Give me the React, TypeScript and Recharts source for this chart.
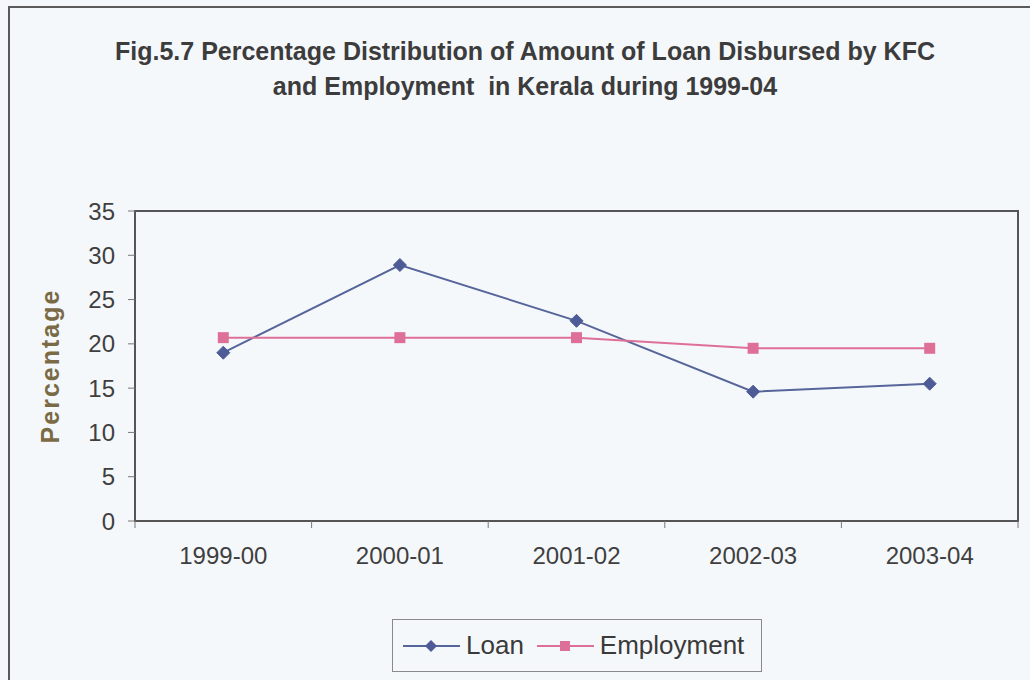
import React from 'react';
import { LineChart, Line, XAxis, YAxis, Legend, ReferenceArea } from 'recharts';

const YEARS = ['1999-00', '2000-01', '2001-02', '2002-03', '2003-04'];
const LOAN = [19.0, 28.9, 22.6, 14.6, 15.5];
const EMPLOYMENT = [20.7, 20.7, 20.7, 19.5, 19.5];
const SERIES = ['Loan', 'Employment'];
const Y_TICKS = [0, 5, 10, 15, 20, 25, 30, 35];

const LOAN_COLOR = '#56659a';
const EMP_COLOR = '#de7097';
const FONT = 'Arial, "Liberation Sans", sans-serif';

// each year sits in the middle of its own slot on a 0..n axis
const data = YEARS.map((year, i) => ({ year, slot: i + 0.5, Loan: LOAN[i], Employment: EMPLOYMENT[i] }));
const BOUNDARY_TICKS = YEARS.map((_, i) => i).concat(YEARS.length);
const CENTER_TICKS = data.map((d) => d.slot);

const Diamond = (props: any) => {
  const { cx, cy } = props;
  if (cx == null || cy == null) return null;
  const r = 6.5;
  return (
    <polygon
      points={`${cx},${cy - r} ${cx + r},${cy} ${cx},${cy + r} ${cx - r},${cy}`}
      fill="#4d5c96"
      stroke="#4d5c96"
    />
  );
};

const Square = (props: any) => {
  const { cx, cy } = props;
  if (cx == null || cy == null) return null;
  return <rect x={cx - 5.5} y={cy - 5.5} width={11} height={11} fill={EMP_COLOR} />;
};

const NoLabel = () => <g />;

const LegendBox = (props: any) => {
  const items = [...(props.payload || [])].sort(
    (a: any, b: any) => SERIES.indexOf(a.value) - SERIES.indexOf(b.value)
  );
  return (
    <div
      style={{
        width: 370,
        height: 53,
        border: '1px solid #8a8a8a',
        display: 'flex',
        alignItems: 'center',
        paddingLeft: 9,
        boxSizing: 'border-box',
        fontFamily: FONT,
        fontSize: 26,
        color: '#3a3a3a',
      }}
    >
      {items.map((item: any) => (
        <div key={item.value} style={{ display: 'flex', alignItems: 'center', marginRight: 12 }}>
          <svg width={59} height={20} style={{ marginRight: 5 }}>
            <line x1={1} y1={10} x2={58} y2={10} stroke={item.color} strokeWidth={2} />
            {item.value === 'Loan' ? (
              <polygon points="29,4 35,10 29,16 23,10" fill="#4d5c96" />
            ) : (
              <rect x={24} y={5} width={10} height={10} fill={EMP_COLOR} />
            )}
          </svg>
          <span>{item.value}</span>
        </div>
      ))}
    </div>
  );
};

export default function App() {
  return (
    <div
      style={{
        position: 'fixed',
        left: 0,
        top: 0,
        width: 1030,
        height: 680,
        background: '#f5f8fb',
        overflow: 'hidden',
        fontFamily: FONT,
      }}
    >
      <div
        style={{
          position: 'absolute',
          left: 8,
          top: 6,
          width: 1040,
          height: 700,
          borderLeft: '2px solid #5a5a5a',
          borderTop: '2px solid #5a5a5a',
        }}
      />
      <div
        style={{
          position: 'absolute',
          left: 0,
          top: 34,
          width: 1050,
          textAlign: 'center',
          fontFamily: '"Liberation Sans Narrow", "Arial Narrow", Arial, sans-serif',
          fontWeight: 'bold',
          fontSize: 25,
          lineHeight: '35px',
          color: '#3c3c3c',
        }}
      >
        Fig.5.7 Percentage Distribution of Amount of Loan Disbursed by KFC
        <br />
        and Employment&nbsp; in Kerala during 1999-04
      </div>
      <div
        style={{
          position: 'absolute',
          left: 50,
          top: 366,
          transform: 'translate(-50%, -50%) rotate(-90deg)',
          fontWeight: 'bold',
          fontSize: 25,
          letterSpacing: 2,
          color: '#7a6a45',
          whiteSpace: 'nowrap',
        }}
      >
        Percentage
      </div>
      <LineChart
        width={1030}
        height={680}
        data={data}
        margin={{ top: 211, right: 12, bottom: 99, left: 0 }}
        style={{ position: 'absolute', left: 0, top: 0 }}
      >
        <XAxis
          dataKey="slot"
          type="number"
          domain={[0, YEARS.length]}
          allowDataOverflow
          ticks={BOUNDARY_TICKS}
          interval={0}
          height={10}
          axisLine={false}
          tickSize={7}
          tickLine={{ stroke: '#777' }}
          tick={<NoLabel />}
        />
        <XAxis
          xAxisId="labels"
          dataKey="slot"
          type="number"
          domain={[0, YEARS.length]}
          allowDataOverflow
          ticks={CENTER_TICKS}
          interval={0}
          height={50}
          tickLine={false}
          axisLine={false}
          tickSize={0}
          tickMargin={16}
          tickFormatter={(v: number) => YEARS[Math.floor(v)]}
          tick={{ fill: '#3f3f3f', fontSize: 24, fontFamily: FONT }}
        />
        <YAxis
          width={135}
          domain={[0, 35]}
          ticks={Y_TICKS}
          interval={0}
          axisLine={false}
          tickSize={7}
          tickMargin={13}
          tickLine={{ stroke: '#777' }}
          tick={{ fill: '#3f3f3f', fontSize: 24, fontFamily: FONT }}
        />
        <ReferenceArea
          x1={0}
          x2={YEARS.length}
          y1={0}
          y2={35}
          fill="none"
          stroke="#555"
          strokeWidth={2}
          ifOverflow="visible"
        />
        <Line
          dataKey="Loan"
          stroke={LOAN_COLOR}
          strokeWidth={2}
          dot={<Diamond />}
          isAnimationActive={false}
        />
        <Line
          dataKey="Employment"
          stroke={EMP_COLOR}
          strokeWidth={2}
          dot={<Square />}
          isAnimationActive={false}
        />
        <Legend
          layout="horizontal"
          verticalAlign="middle"
          align="center"
          content={<LegendBox />}
          wrapperStyle={{ position: 'absolute', left: 392, top: 619, width: 370, height: 54 }}
        />
      </LineChart>
    </div>
  );
}
